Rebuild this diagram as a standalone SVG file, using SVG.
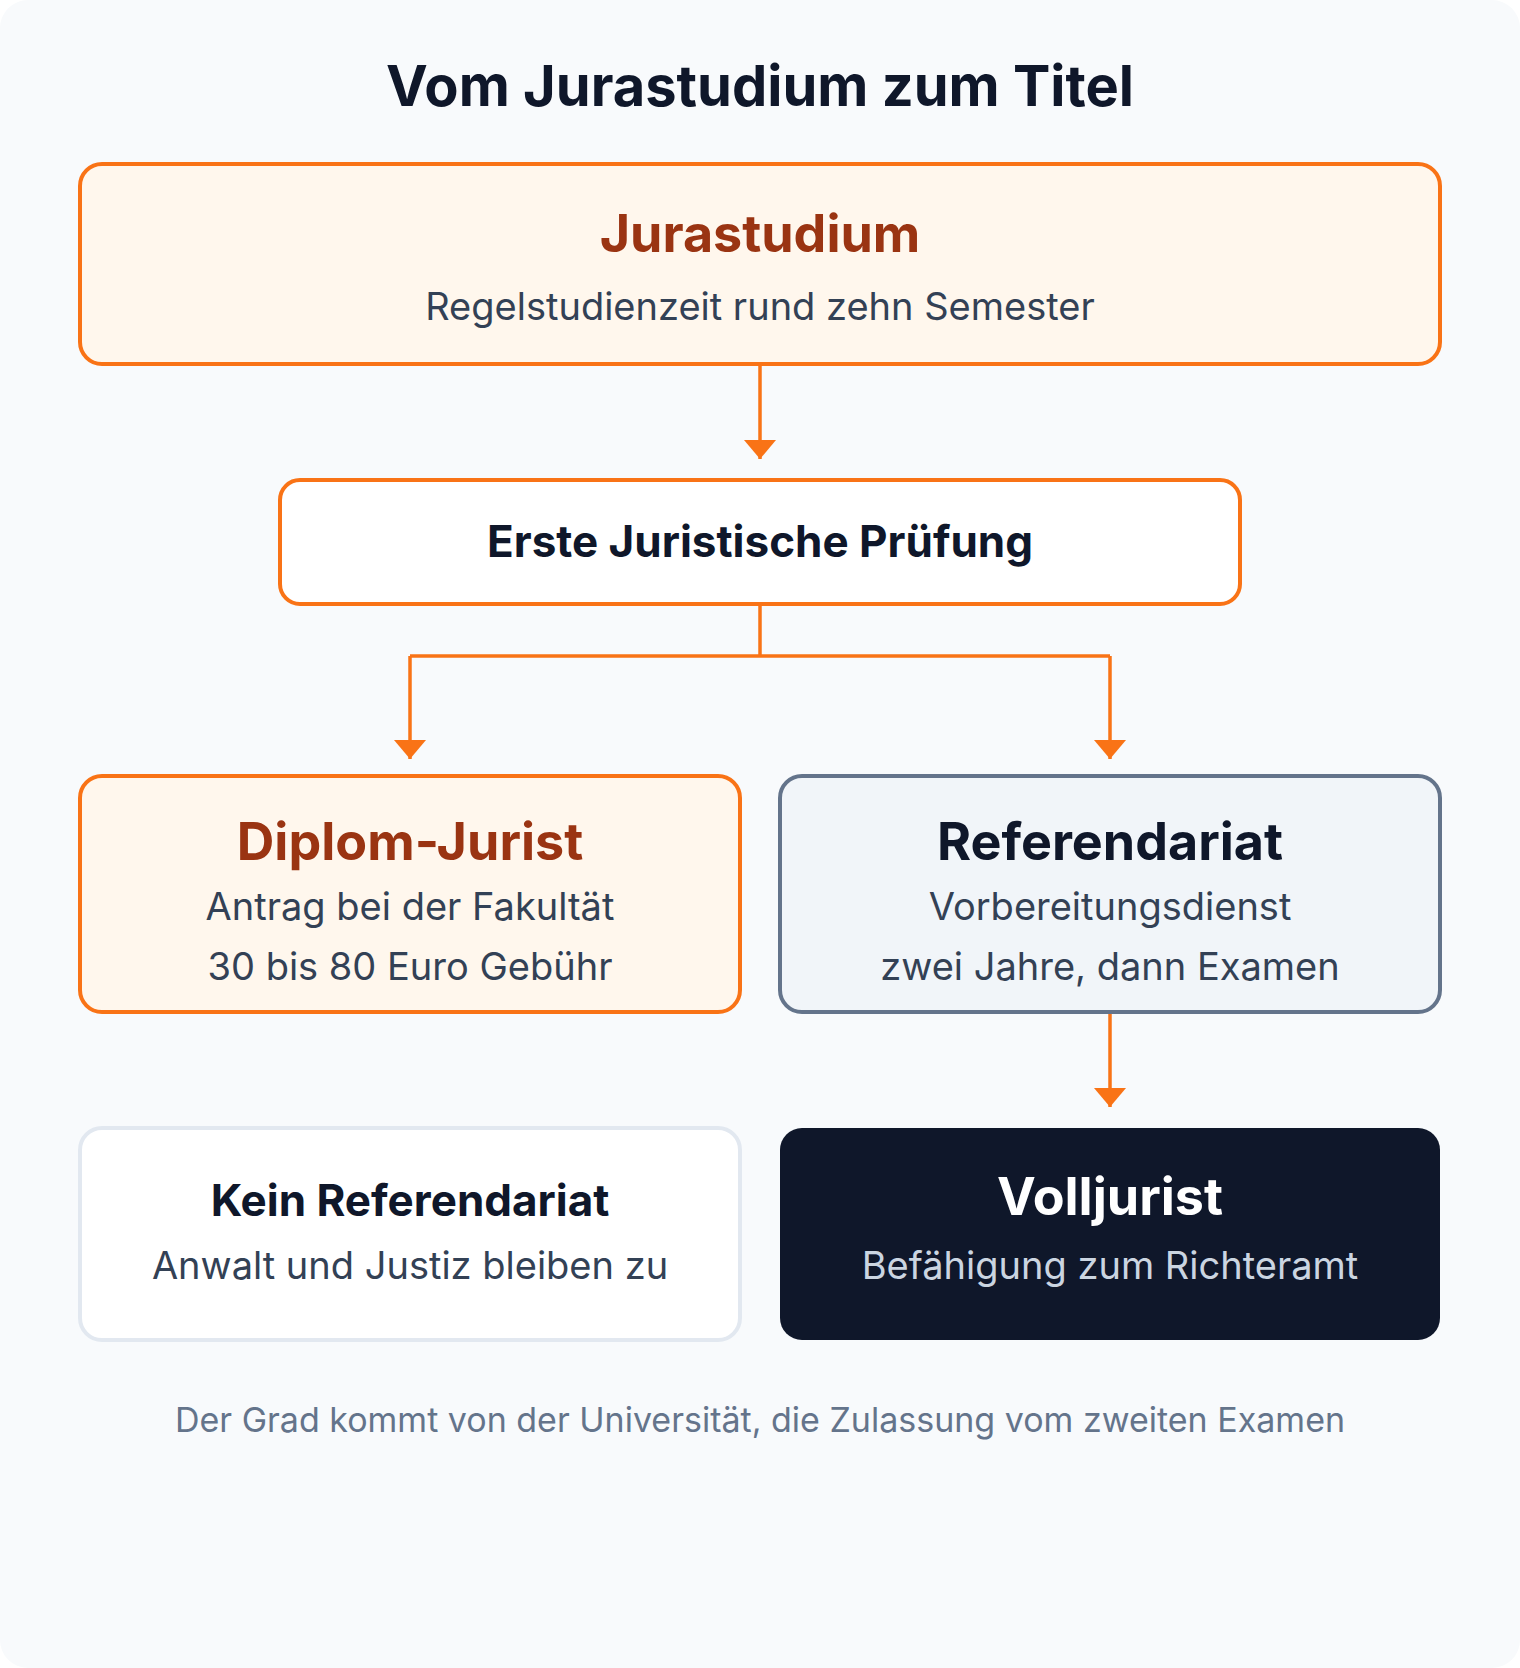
<svg xmlns="http://www.w3.org/2000/svg" width="1520" height="1668" viewBox="0 0 1520 1668">
  <defs>
    <style>
      text { font-family: Inter, "Liberation Sans", sans-serif; text-anchor: middle; }
      .h0 { font-size: 56px; font-weight: 700; fill: #0f172a; }
      .h1 { font-size: 52px; font-weight: 700; }
      .h2 { font-size: 44px; font-weight: 700; fill: #0f172a; }
      .sub { font-size: 38px; font-weight: 400; fill: #334155; }
      .foot { font-size: 34px; font-weight: 400; fill: #64748b; }
      .orange { fill: #9a3412; }
      .dark { fill: #0f172a; }
      .box-o { fill: #fff7ed; stroke: #f97316; stroke-width: 4; }
      .box-w { fill: #ffffff; stroke: #f97316; stroke-width: 4; }
      .box-s { fill: #f1f5f9; stroke: #64748b; stroke-width: 4; }
      .box-g { fill: #ffffff; stroke: #e2e8f0; stroke-width: 4; }
      .box-d { fill: #0f172a; }
      .conn { fill: none; stroke: #f97316; stroke-width: 3.5; }
    </style>
    <marker id="arrow" markerUnits="userSpaceOnUse" markerWidth="20" markerHeight="32" refX="19" refY="16" orient="auto" viewBox="0 0 20 32">
      <path d="M0,0 L19,16 L0,32 Z" fill="#f97316"/>
    </marker>
  </defs>

  <rect x="0" y="0" width="1520" height="1668" fill="#ffffff"/>
  <rect x="0" y="0" width="1520" height="1668" rx="28" ry="28" fill="#f8fafc"/>

  <text class="h0" x="760" y="106">Vom Jurastudium zum Titel</text>

  <g id="connectors">
    <line class="conn" x1="760" y1="364" x2="760" y2="459" marker-end="url(#arrow)"/>
    <polyline class="conn" points="760,604 760,656"/>
    <polyline class="conn" points="410,656 1110,656"/>
    <line class="conn" x1="410" y1="656" x2="410" y2="759" marker-end="url(#arrow)"/>
    <line class="conn" x1="1110" y1="656" x2="1110" y2="759" marker-end="url(#arrow)"/>
    <line class="conn" x1="1110" y1="1012" x2="1110" y2="1107" marker-end="url(#arrow)"/>
  </g>

  <g id="jurastudium">
    <rect class="box-o" x="80" y="164" width="1360" height="200" rx="22"/>
    <text class="h1 orange" x="760" y="252">Jurastudium</text>
    <text class="sub" x="760" y="320">Regelstudienzeit rund zehn Semester</text>
  </g>

  <g id="erste-pruefung">
    <rect class="box-w" x="280" y="480" width="960" height="124" rx="20"/>
    <text class="h2" x="760" y="557">Erste Juristische Prüfung</text>
  </g>

  <g id="diplom-jurist">
    <rect class="box-o" x="80" y="776" width="660" height="236" rx="22"/>
    <text class="h1 orange" x="410" y="860">Diplom-Jurist</text>
    <text class="sub" x="410" y="920">Antrag bei der Fakultät</text>
    <text class="sub" x="410" y="980">30 bis 80 Euro Gebühr</text>
  </g>

  <g id="referendariat">
    <rect class="box-s" x="780" y="776" width="660" height="236" rx="22"/>
    <text class="h1 dark" x="1110" y="860">Referendariat</text>
    <text class="sub" x="1110" y="920">Vorbereitungsdienst</text>
    <text class="sub" x="1110" y="980">zwei Jahre, dann Examen</text>
  </g>

  <g id="kein-referendariat">
    <rect class="box-g" x="80" y="1128" width="660" height="212" rx="22"/>
    <text class="h2" x="410" y="1216">Kein Referendariat</text>
    <text class="sub" x="410" y="1279">Anwalt und Justiz bleiben zu</text>
  </g>

  <g id="volljurist">
    <rect class="box-d" x="780" y="1128" width="660" height="212" rx="22"/>
    <text class="h1" x="1110" y="1215" fill="#ffffff">Volljurist</text>
    <text class="sub" x="1110" y="1279" style="fill:#cbd5e1">Befähigung zum Richteramt</text>
  </g>

  <text class="foot" x="760" y="1432">Der Grad kommt von der Universität, die Zulassung vom zweiten Examen</text>
</svg>
